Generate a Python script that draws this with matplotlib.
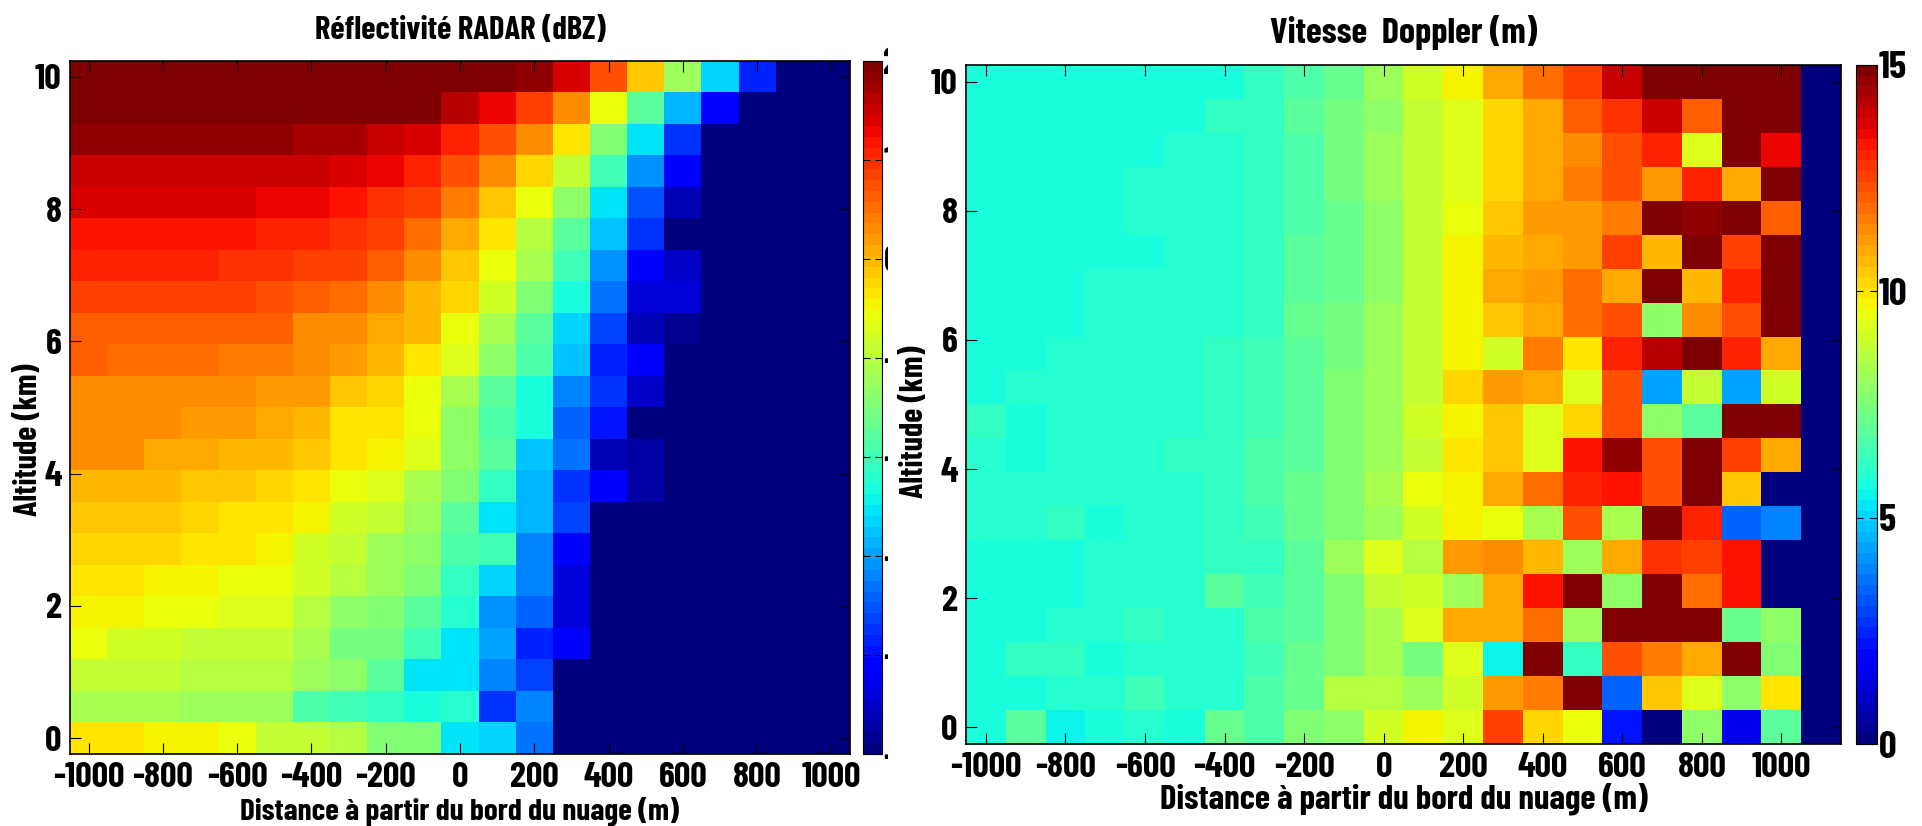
import numpy as np
import matplotlib
matplotlib.use("Agg")
import matplotlib.pyplot as plt
from matplotlib.transforms import Bbox

plt.rcParams['font.family'] = ['Barlow Condensed', 'Open Sans Condensed', 'Liberation Sans', 'DejaVu Sans']
plt.rcParams['font.weight'] = 'bold'
plt.rcParams['axes.labelweight'] = 'bold'
plt.rcParams['axes.unicode_minus'] = False

W, H = 1922, 826

# reflectivity in dBZ, top row (10 km) first, columns -1000 ... 1000 m
refl = [
    [20,20,20,20,20,20,20,20,20,20,20,20,18.5,14,7.5,-1,-12,-27,-38,-50,-50],
    [20,20,20,20,20,20,20,20,20,19,16.5,13,8,2.5,-6,-18,-29,-41,-50,-50,-50],
    [18.5,18.5,18.5,18.5,18.5,18.5,17.2,17.2,15.4,13.8,11,7.5,2.5,-4,-15,-25,-37,-50,-50,-50,-50],
    [15.4,15.4,15.4,15.4,15.4,15.4,14.6,13.8,12.5,10.5,7.5,3.5,-2,-9.5,-20,-31,-42,-50,-50,-50,-50],
    [13.6,13.6,13.6,13.6,13.6,12.5,12.5,12,10,8,4.5,-1,-6,-13,-25,-35,-46,-50,-50,-50,-50],
    [12,12,12,12,12,11,11,9.5,8,5,1,-3,-10,-18,-28,-37.5,-49,-50,-50,-50,-50],
    [10.5,10.5,10.5,10.5,9.5,9.5,8.5,8,6,2.5,-1,-6,-11,-20,-31,-42,-45,-50,-50,-50,-50],
    [8.5,8.5,8.5,8.5,8.5,7.5,6.5,5.5,3.5,0,-2,-8,-15,-23,-33,-44,-44,-50,-50,-50,-50],
    [6.5,6.5,6.5,6.5,6,6,3.5,2.5,0.5,-0.5,-6,-11,-18,-27,-36,-46,-48,-50,-50,-50,-50],
    [6,5,5,5,4.5,4.5,3,2,-0.5,-3.5,-7,-13,-19,-28,-38,-42,-50,-50,-50,-50,-50],
    [3,3,3,3,2.5,1.5,1.5,-1,-2.5,-6,-11.5,-18,-23,-32,-37,-45.5,-50,-50,-50,-50,-50],
    [3,3,3,2,2,1,-0.5,-3,-3,-6,-13,-19,-23,-34,-40,-49,-50,-50,-50,-50,-50],
    [2.5,2.5,1,1,-0.5,-0.5,-1,-3.5,-5,-7,-13,-18,-28,-33,-46,-47,-50,-50,-50,-50,-50],
    [0,-0.5,-0.5,-1.5,-1.5,-2.5,-3.5,-6,-7,-11.5,-15,-21,-29,-37.5,-42,-47,-50,-50,-50,-50,-50],
    [-1.5,-1.5,-1.5,-2.5,-4,-4,-4.5,-7.5,-9.5,-12,-18,-25,-29,-36,-50,-50,-50,-50,-50,-50,-50],
    [-2,-2,-2,-4,-4,-4.5,-8,-9,-12,-13,-19,-20,-32.5,-42,-50,-50,-50,-50,-50,-50,-50],
    [-3.5,-3.5,-4.5,-4.5,-6,-6,-8,-10.5,-12.5,-15,-21,-26,-32.5,-44.5,-50,-50,-50,-50,-50,-50,-50],
    [-4.5,-4.5,-6,-6,-6.5,-6.5,-10,-13.5,-14,-18,-22,-31,-34,-44.5,-50,-50,-50,-50,-50,-50,-50],
    [-6,-8,-8,-8.5,-8.5,-8.5,-11.5,-16,-16,-20,-25,-30,-39,-42,-50,-50,-50,-50,-50,-50,-50],
    [-9.5,-9.5,-9.5,-10,-10,-10,-12.5,-13,-18,-25,-25,-32.5,-36,-50,-50,-50,-50,-50,-50,-50,-50],
    [-11.5,-11.5,-11.5,-12.5,-12.5,-12.5,-19,-20,-20.5,-23,-22,-37,-32,-50,-50,-50,-50,-50,-50,-50,-50],
    [-3,-3,-4.5,-4.5,-6,-9,-9,-10,-15,-15,-25.5,-27,-33,-50,-50,-50,-50,-50,-50,-50,-50],
]

# doppler speed, top row first, columns -1000 ... 1100 m
doppler = [
    [5.85,5.85,5.85,5.85,5.85,5.85,5.85,6.2,6.6,7.2,8,9,9.8,11,11.9,12.5,14,15,15,15,15,0],
    [5.85,5.85,5.85,5.85,5.85,5.85,6.1,6.2,6.9,7.4,7.9,8.9,9.3,10.3,11,12,12.7,14,12.1,15,15,0],
    [5.85,5.85,5.85,5.85,5.85,6,6,6.2,6.7,7.3,8,8.9,9.3,10.3,10.9,11.3,12.2,13,9.3,15,13.5,0],
    [5.85,5.85,5.85,5.85,5.95,5.95,5.95,6.2,6.7,7.3,8,8.8,9.3,10.3,10.8,11.6,12.2,11.2,13,11,15,0],
    [5.85,5.85,5.85,5.85,5.95,5.95,5.95,6.1,6.6,7.2,7.8,8.8,9.6,10.4,11.1,11.2,11.6,15,14.6,15,12.1,0],
    [5.85,5.85,5.85,5.85,5.85,5.95,5.95,6.1,6.8,7.2,7.9,8.8,9.8,10.7,11,11.2,12.6,10.7,15,12.6,15,0],
    [5.85,5.85,5.85,5.95,5.95,5.95,6,6.1,6.8,7.2,7.9,8.8,9.8,11,11.2,11.9,11,15,10.6,12.9,15,0],
    [5.85,5.85,5.85,5.95,5.95,5.95,6,6.3,7.1,7.3,8,8.9,9.8,10.4,11,11.8,12.3,7.9,11.4,12.4,15,0],
    [5.85,5.85,5.95,5.95,5.95,5.95,6.1,6.4,6.9,7.4,8,8.8,9.7,9.1,11.6,10,13,14.2,15,13,11,0],
    [5.85,6,6,6,6,6,6.1,6.4,7,7.5,8.1,8.8,10.1,11.1,10.9,9.3,12.3,4.4,8.7,4.4,9,0],
    [6.1,5.85,5.95,5.95,6,6,6.2,6.5,7,7.6,8.2,9,9.7,10.4,9.3,10.3,12.2,7.8,6.9,15,15,0],
    [5.95,5.85,5.95,5.95,5.95,6.2,6.2,6.6,6.9,7.6,8.1,8.9,10,10.4,9.3,13.3,14.6,12.3,15,12.6,11,0],
    [5.95,5.95,5.95,5.95,5.95,5.95,6.1,6.6,7.2,7.6,8.4,9.4,9.8,10.8,11.8,13,13.2,12.4,15,10.4,0,0],
    [5.95,5.95,6.2,5.85,5.95,5.95,6.1,6.4,7.2,7.6,8.1,9.1,9.8,9.4,8.3,12.2,8.4,15,13,3.5,3.8,0],
    [5.85,5.85,5.85,6,6,6,6.2,6.2,7,8.2,9.3,8.5,11.1,11.3,10.6,8,11,12.8,12.5,13.2,0,0],
    [5.85,5.85,5.85,6,6,6,6.8,6.4,7,7.5,8.7,9,8,10.9,13.3,15,7.9,15,11.8,13.2,0,0],
    [5.85,5.85,6,6,6.3,5.95,5.95,6.6,7,7.6,8.3,9.2,11,11,11.9,8,15,15,15,7.1,7.8,0],
    [5.85,6.1,6.1,5.85,6,6,6,6.5,7.1,7.7,8.3,7.3,9.2,5.5,15,6.1,12.4,11.6,10.9,15,7.5,0],
    [5.85,5.85,6,6,6.5,6,6,6.6,7.2,8.5,8.5,8,9.1,11.2,11.5,15,3.5,10.4,9.3,7.8,10,0],
    [5.85,6.9,5.6,5.85,5.95,5.85,7.2,6.6,7.7,7.8,9,9.8,9.2,12.6,10.1,9.4,2.2,0,7.8,1.6,6.9,0],
]

xticks = [-1000, -800, -600, -400, -200, 0, 200, 400, 600, 800, 1000]
yticks = [0, 2, 4, 6, 8, 10]
refl_cticks = [-50, -40, -30, -20, -10, 0, 10, 20]
dop_cticks = [0, 5, 10, 15]

cmap = plt.get_cmap('jet', 64)


def rect(x0, y0, x1, y1):
    # pixel box (y from the top) to figure fractions
    return [x0 / W, 1 - y1 / H, (x1 - x0) / W, (y1 - y0) / H]


def panel(fig, box, cbox, data, dy, vmin, vmax, title, title_y, title_fs, xlab_y, xlab_fs, ylab_x, ylab_yc, cticks):
    ax = fig.add_axes(rect(*box))
    cax = fig.add_axes(rect(*cbox))
    data = np.array(data)
    ncol = data.shape[1]
    im = ax.imshow(data, cmap=cmap, vmin=vmin, vmax=vmax, aspect='auto', interpolation='nearest',
                   extent=[-1050, -1050 + 100 * ncol, -dy / 2, 10 + dy / 2])
    ax.set_xticks(xticks)
    ax.set_yticks(yticks)
    ax.tick_params(direction='in', length=8, width=0.8, top=True, right=True, labelsize=26, pad=6)
    for s in ax.spines.values():
        s.set_linewidth(1.2)
    fig.text((box[0] + box[2]) / 2 / W, 1 - title_y / H, title, ha='center', va='center', fontsize=title_fs)
    ax.set_xlabel('Distance à partir du bord du nuage (m)', fontsize=xlab_fs)
    ax.xaxis.set_label_coords(0.5, -(xlab_y - box[3]) / (box[3] - box[1]))
    ax.xaxis.label.set_va('center')
    ax.set_ylabel('Altitude (km)', fontsize=23, va='center')
    ax.yaxis.set_label_coords((ylab_x - box[0]) / (box[2] - box[0]), (box[3] - ylab_yc) / (box[3] - box[1]))
    cb = fig.colorbar(im, cax=cax)
    cb.set_ticks(cticks)
    cb.ax.tick_params(direction='in', length=5, width=0.8, left=True, right=True, labelsize=28, pad=1)
    cb.outline.set_linewidth(0.8)
    return ax, cb


fig = plt.figure(figsize=(W / 100, H / 100), dpi=100)

ax1, cb1 = panel(fig, (70, 61, 850, 754), (863, 61, 882, 754), refl, 10 / 21, -50, 20,
                 'Réflectivité RADAR (dBZ)', 30, 23.5, 811, 22.5, 28, 440, refl_cticks)
ax2, cb2 = panel(fig, (966, 65, 1841, 744), (1856, 65, 1877, 744), doppler, 10 / 19, 0, 15,
                 'Vitesse  Doppler (m)', 32, 26, 799, 25, 915, 422, dop_cticks)

# the labels of the first colorbar are cut by the next panel in the original
clip = Bbox([[860, 0], [888, H]])
for lab in cb1.ax.get_yticklabels():
    lab.set_clip_on(True)
    lab.set_clip_box(clip)

fig.savefig('out.png', dpi=100)
